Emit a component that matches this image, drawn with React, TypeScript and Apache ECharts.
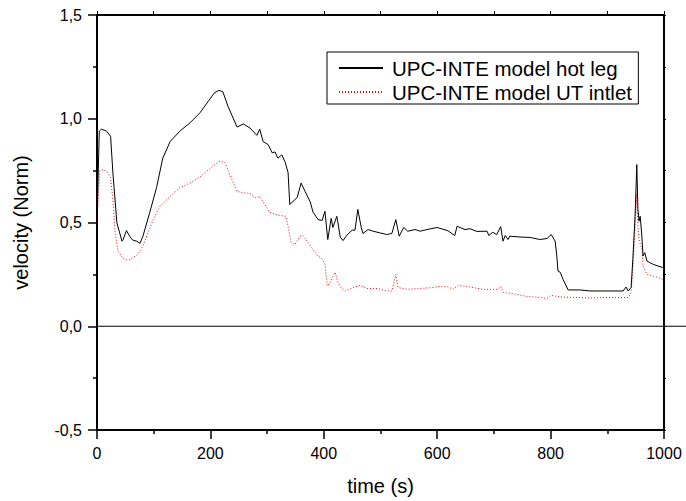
import React, { useEffect, useRef } from "react";
import * as echarts from "echarts";

// time (s) and velocity (Norm) for the hot leg
const hotLegTime = [0, 4, 8, 17, 24, 28, 35, 44, 46, 52, 58, 63, 70, 76, 81, 93, 105, 116, 129, 146, 164, 182, 196, 207, 215, 222, 231, 247, 258, 270, 282, 287, 293, 302, 309, 314, 319, 326, 332, 337, 340, 353, 360, 367, 376, 381, 390, 397, 402, 407, 413, 416, 423, 429, 434, 441, 450, 455, 460, 466, 469, 478, 487, 499, 511, 520, 527, 533, 541, 548, 561, 570, 582, 600, 619, 631, 635, 649, 658, 670, 688, 691, 698, 705, 712, 716, 720, 725, 728, 746, 764, 781, 794, 801, 808, 811, 813, 817, 822, 831, 852, 869, 887, 928, 933, 937, 942, 945, 949, 952, 954, 956, 958, 961, 963, 966, 970, 975, 981, 998, 1000];
const hotLegVel = [0.5, 0.94, 0.95, 0.94, 0.915, 0.74, 0.5, 0.41, 0.418, 0.461, 0.432, 0.415, 0.41, 0.4, 0.434, 0.548, 0.668, 0.81, 0.89, 0.94, 0.98, 1.03, 1.083, 1.125, 1.137, 1.13, 1.06, 0.96, 0.975, 0.955, 0.92, 0.95, 0.89, 0.875, 0.836, 0.84, 0.81, 0.826, 0.79, 0.74, 0.587, 0.62, 0.69, 0.65, 0.6, 0.55, 0.514, 0.51, 0.554, 0.418, 0.52, 0.476, 0.53, 0.43, 0.413, 0.44, 0.463, 0.463, 0.563, 0.476, 0.447, 0.466, 0.458, 0.45, 0.442, 0.447, 0.514, 0.434, 0.476, 0.458, 0.466, 0.458, 0.466, 0.476, 0.46, 0.437, 0.482, 0.466, 0.47, 0.457, 0.458, 0.437, 0.453, 0.442, 0.48, 0.41, 0.437, 0.418, 0.434, 0.43, 0.428, 0.418, 0.423, 0.442, 0.41, 0.338, 0.266, 0.26, 0.226, 0.175, 0.175, 0.17, 0.17, 0.17, 0.189, 0.17, 0.187, 0.322, 0.53, 0.779, 0.562, 0.506, 0.53, 0.434, 0.338, 0.355, 0.314, 0.307, 0.298, 0.283, 0.282];

// time (s) and velocity (Norm) for the UT inlet
const utInletTime = [0, 5, 11, 19, 24, 28, 32, 37, 46, 55, 63, 72, 81, 90, 99, 111, 129, 146, 164, 182, 205, 217, 226, 231, 238, 247, 257, 270, 279, 287, 296, 305, 323, 333, 337, 342, 349, 358, 363, 372, 381, 390, 398, 402, 406, 411, 420, 425, 430, 438, 452, 464, 476, 494, 511, 520, 527, 531, 547, 570, 593, 605, 619, 628, 637, 658, 681, 707, 712, 716, 734, 758, 781, 794, 801, 817, 840, 869, 887, 937, 942, 945, 949, 952, 954, 956, 961, 963, 970, 981, 998, 1000];
const utInletVel = [0.5, 0.75, 0.755, 0.74, 0.716, 0.61, 0.45, 0.362, 0.326, 0.317, 0.33, 0.346, 0.386, 0.45, 0.514, 0.578, 0.626, 0.668, 0.69, 0.72, 0.774, 0.795, 0.788, 0.755, 0.707, 0.65, 0.644, 0.64, 0.62, 0.625, 0.587, 0.548, 0.534, 0.53, 0.482, 0.404, 0.394, 0.434, 0.437, 0.404, 0.37, 0.338, 0.322, 0.3, 0.194, 0.21, 0.26, 0.21, 0.187, 0.17, 0.187, 0.197, 0.182, 0.182, 0.17, 0.17, 0.25, 0.187, 0.178, 0.182, 0.187, 0.192, 0.19, 0.178, 0.197, 0.189, 0.178, 0.178, 0.192, 0.163, 0.157, 0.144, 0.139, 0.134, 0.149, 0.141, 0.139, 0.136, 0.138, 0.138, 0.163, 0.274, 0.482, 0.64, 0.482, 0.418, 0.37, 0.29, 0.25, 0.242, 0.226, 0.225];

const seriesNames = ["UPC-INTE model hot leg", "UPC-INTE model UT intlet"];
const xTitle = "time (s)";
const yTitle = "velocity (Norm)";

const FONT = "Liberation Sans, Arial, sans-serif";

export default function App() {
  const ref = useRef<HTMLDivElement>(null);
  useEffect(() => {
    if (!ref.current) return;
    const chart = echarts.init(ref.current, null, { renderer: "svg" });
    const zip = (t: number[], v: number[]) => t.map((x, i) => [x, v[i]]);
    chart.setOption({
      animation: false,
      backgroundColor: "#ffffff",
      textStyle: { fontFamily: FONT },
      grid: { left: 97, top: 15, right: 22, bottom: 70, containLabel: false },
      legend: {
        orient: "vertical",
        left: 327,
        top: 52,
        padding: [5, 6, 1, 11],
        itemGap: 2,
        itemWidth: 44,
        itemHeight: 22,
        borderColor: "#000",
        borderWidth: 1,
        itemStyle: { opacity: 0 },
        textStyle: { fontFamily: FONT, fontSize: 20.5, lineHeight: 22, color: "#000", padding: [0, 0, 0, 4] },
        data: seriesNames,
      },
      xAxis: [
        {
          type: "value",
          min: 0,
          max: 1000,
          interval: 200,
          name: xTitle,
          nameLocation: "middle",
          nameGap: 46,
          nameTextStyle: { fontFamily: FONT, fontSize: 20, color: "#000", verticalAlign: "top" },
          axisLine: { onZero: false, lineStyle: { color: "#000", width: 2 } },
          axisTick: { inside: false, length: 9, lineStyle: { color: "#000", width: 1.5 } },
          minorTick: { show: true, splitNumber: 2, length: 4, lineStyle: { color: "#000", width: 1.5 } },
          axisLabel: {
            fontFamily: FONT,
            fontSize: 16,
            color: "#000",
            margin: 15,
            formatter: (v: number) => String(v),
          },
          splitLine: { show: false },
        },
        {
          type: "value",
          position: "top",
          min: 0,
          max: 1000,
          interval: 100,
          axisLine: { onZero: false, lineStyle: { color: "#000", width: 2 } },
          axisTick: { inside: false, length: 4, lineStyle: { color: "#000", width: 1 } },
          axisLabel: { show: false },
          splitLine: { show: false },
        },
      ],
      yAxis: [
        {
          type: "value",
          min: -0.5,
          max: 1.5,
          interval: 0.5,
          name: yTitle,
          nameLocation: "middle",
          nameGap: 66,
          nameRotate: 90,
          nameTextStyle: { fontFamily: FONT, fontSize: 20, color: "#000" },
          axisLine: { onZero: false, lineStyle: { color: "#000", width: 2 } },
          axisTick: { inside: false, length: 9, lineStyle: { color: "#000", width: 1.5 } },
          minorTick: { show: true, splitNumber: 2, length: 4, lineStyle: { color: "#000", width: 1.5 } },
          axisLabel: {
            fontFamily: FONT,
            fontSize: 16,
            color: "#000",
            margin: 15,
            formatter: (v: number) => v.toFixed(1).replace(".", ","),
          },
          splitLine: { show: false },
        },
        {
          type: "value",
          position: "right",
          min: -0.5,
          max: 1.5,
          interval: 0.25,
          axisLine: { onZero: false, lineStyle: { color: "#000", width: 2 } },
          axisTick: { inside: false, length: 2, lineStyle: { color: "#000", width: 1 } },
          axisLabel: { show: false },
          splitLine: { show: false },
        },
      ],
      series: [
        {
          name: seriesNames[0],
          type: "line",
          data: zip(hotLegTime, hotLegVel),
          symbol: "none",
          lineStyle: { color: "#000", width: 1 },
          itemStyle: { color: "#000" },
          z: 3,
        },
        {
          name: seriesNames[1],
          type: "line",
          data: zip(utInletTime, utInletVel),
          symbol: "none",
          lineStyle: { color: "#ff0000", width: 1, type: [1, 2] },
          itemStyle: { color: "#ff0000" },
          z: 2,
        },
      ],
    });
    const y0 = chart.convertToPixel({ yAxisIndex: 0 }, 0) as number;
    const x0 = chart.convertToPixel({ xAxisIndex: 0 }, 0) as number;
    chart.setOption({
      graphic: [
        {
          type: "line",
          shape: { x1: x0, y1: y0, x2: 686, y2: y0 },
          style: { stroke: "#000", lineWidth: 1.2 },
          z: 10,
        },
      ],
    });
    return () => chart.dispose();
  }, []);
  return (
    <div
      ref={ref}
      style={{ position: "absolute", left: 0, top: 0, width: 686, height: 501 }}
    />
  );
}
